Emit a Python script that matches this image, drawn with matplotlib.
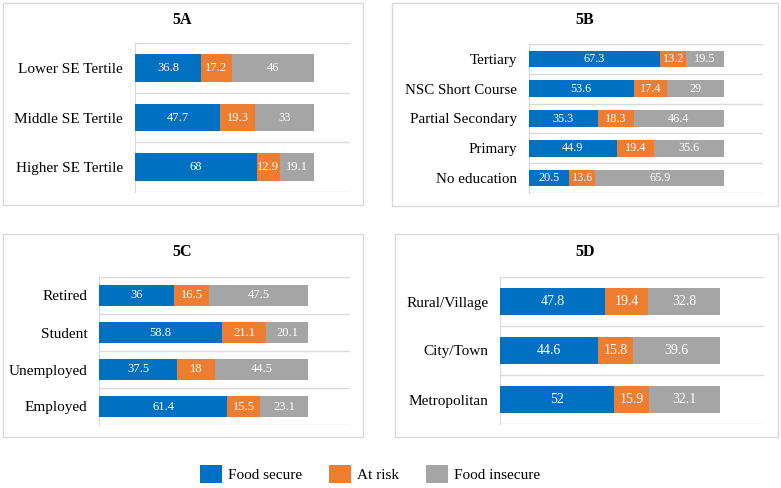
import matplotlib
matplotlib.use("Agg")
import matplotlib.pyplot as plt
from matplotlib.patches import Rectangle, Patch
import numpy as np

plt.rcParams['font.family'] = ['Liberation Serif', 'DejaVu Serif']

series_names = ["Food secure", "At risk", "Food insecure"]
colors = ["#0070C0", "#ED7D31", "#A5A5A5"]

cats_a = ["Lower SE Tertile", "Middle SE Tertile", "Higher SE Tertile"]
secure_a = [36.8, 47.7, 68]
risk_a = [17.2, 19.3, 12.9]
insecure_a = [46, 33, 19.1]

cats_b = ["Tertiary", "NSC Short Course", "Partial Secondary", "Primary", "No education"]
secure_b = [67.3, 53.6, 35.3, 44.9, 20.5]
risk_b = [13.2, 17.4, 18.3, 19.4, 13.6]
insecure_b = [19.5, 29, 46.4, 35.6, 65.9]

cats_c = ["Retired", "Student", "Unemployed", "Employed"]
secure_c = [36, 58.8, 37.5, 61.4]
risk_c = [16.5, 21.1, 18, 15.5]
insecure_c = [47.5, 20.1, 44.5, 23.1]

cats_d = ["Rural/Village", "City/Town", "Metropolitan"]
secure_d = [47.8, 44.6, 52]
risk_d = [19.4, 15.8, 15.9]
insecure_d = [32.8, 39.6, 32.1]

W, H = 781, 488
fig = plt.figure(figsize=(W / 100, H / 100), dpi=100)


def px_axes(left, top, right, bottom):
    return fig.add_axes([left / W, (H - bottom) / H, (right - left) / W, (bottom - top) / H])


def border(left, top, right, bottom):
    fig.patches.append(Rectangle((left / W, (H - bottom) / H), (right - left) / W, (bottom - top) / H,
                                 transform=fig.transFigure, fill=False, edgecolor="#D9D9D9", lw=1.0))


def panel(ax, cats, s1, s2, s3, title, tx, ty, vfs, lfs):
    n = len(cats)
    y = np.arange(n)
    left = np.zeros(n)
    for vals, c in zip([s1, s2, s3], colors):
        vals = np.array(vals, dtype=float)
        ax.barh(y, vals, left=left, height=0.56, color=c, zorder=3)
        for yi, l, v in zip(y, left, vals):
            ax.text(l + v / 2, yi, f"{v:g}", ha="center", va="center", color="white", fontsize=vfs, zorder=4)
        left = left + vals
    ax.set_xlim(0, 120)
    ax.set_ylim(n - 0.5, -0.5)
    ax.set_yticks(y)
    ax.set_yticklabels(cats, fontsize=lfs)
    ax.set_yticks(np.arange(n + 1) - 0.5, minor=True)
    ax.tick_params(axis="y", which="both", length=0, pad=8.5)
    ax.set_xticks([])
    ax.grid(True, axis="y", which="minor", color="#D9D9D9", lw=1.0, zorder=0)
    ax.grid(False, axis="y", which="major")
    for s in ["top", "right", "bottom"]:
        ax.spines[s].set_visible(False)
    ax.spines["left"].set_color("#D9D9D9")
    ax.patch.set_alpha(0)
    fig.text(tx / W, (H - ty) / H, title, ha="center", va="center", fontsize=11.5, fontweight="bold")


border(3, 3, 363, 205)
border(392, 3, 778, 206)
border(3, 234, 363, 437)
border(395, 234, 778, 437)

axA = px_axes(135, 43, 350, 192)
panel(axA, cats_a, secure_a, risk_a, insecure_a, "5A", 182, 20, 9, 11)
axB = px_axes(529, 44, 763, 193)
panel(axB, cats_b, secure_b, risk_b, insecure_b, "5B", 585, 20, 8.8, 10.8)
axC = px_axes(99, 277, 350, 425)
panel(axC, cats_c, secure_c, risk_c, insecure_c, "5C", 182, 252, 9, 11)
axD = px_axes(500, 277, 764, 424)
panel(axD, cats_d, secure_d, risk_d, insecure_d, "5D", 585, 252, 10, 11)

handles = [Patch(facecolor=c, edgecolor="none") for c in colors]
fig.legend(handles, series_names, loc="center", bbox_to_anchor=(370 / W, (H - 474) / H), ncol=3,
           frameon=False, fontsize=11, handlelength=1.45, handleheight=1.45, handletextpad=0.35,
           columnspacing=1.8)

fig.savefig("out.png", dpi=100)
